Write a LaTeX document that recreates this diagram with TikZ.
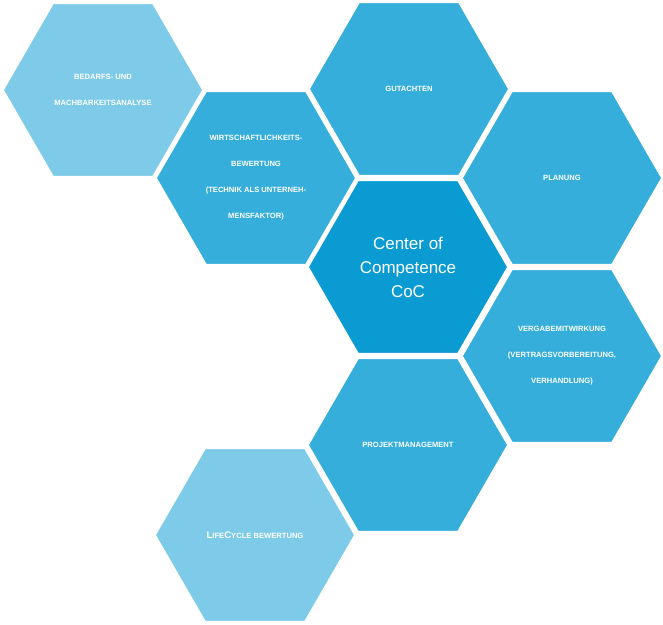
\documentclass[tikz,border=0pt]{standalone}
\usepackage{fontspec}
\setmainfont{Liberation Sans}
\usetikzlibrary{shapes.geometric}
\definecolor{hexlight}{HTML}{7DCBE8}
\definecolor{hexmid}{HTML}{35AEDB}
\definecolor{hexcore}{HTML}{0A9BD3}
\tikzset{
  hex/.style={regular polygon, regular polygon sides=6, minimum size=201pt, inner sep=0pt,
    draw=white, line width=2.5pt, text=white, align=center,
    font=\bfseries\fontsize{7.6}{26}\selectfont},
}
\newcommand{\bigc}[1]{{\fontsize{9.6}{26}\selectfont #1}}
\begin{document}
\begin{tikzpicture}[x=1pt,y=-1pt]
\useasboundingbox (0,0) rectangle (663,624);
\node[hex, fill=hexlight] (bedarf) at (103,90) {BEDARFS- UND\\MACHBARKEITSANALYSE};
\node[hex, fill=hexmid] (wirt) at (256,178) {WIRTSCHAFTLICHKEITS-\\BEWERTUNG\\(TECHNIK ALS UNTERNEH-\\MENSFAKTOR)};
\node[hex, fill=hexmid] (gut) at (409,89) {GUTACHTEN};
\node[hex, fill=hexmid] (plan) at (562,178) {PLANUNG};
\node[hex, fill=hexcore, font=\fontsize{17}{24}\selectfont] (core) at (408,267) {Center of\\Competence\\CoC};
\node[hex, fill=hexmid] (verg) at (562,356) {VERGABEMITWIRKUNG\\(VERTRAGSVORBEREITUNG,\\VERHANDLUNG)};
\node[hex, fill=hexmid] (proj) at (408,445) {PROJEKTMANAGEMENT};
\node[hex, fill=hexlight] (life) at (255,535) {\bigc{L}IFE\bigc{C}YCLE BEWERTUNG};
\end{tikzpicture}
\end{document}
